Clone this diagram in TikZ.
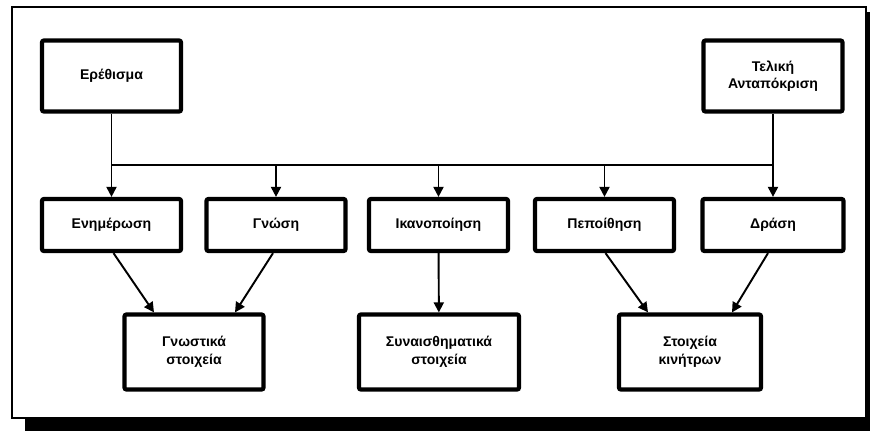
\documentclass[tikz,border=0pt]{standalone}
\usepackage{fontspec}
\setmainfont{Liberation Sans}
\usepackage{tikz}
\usetikzlibrary{arrows.meta}
\usetikzlibrary{positioning}
\tikzset{%
	lw/.style={line width=1.1},
	box/.style={rectangle,draw,line width=2.4,rounded corners=0.04cm,fill=white,align=center,minimum width=2.78cm,minimum height=1.04cm,font=\fontsize{8}{10}\selectfont\bfseries},
	tallbox/.style={box,minimum height=1.5cm},
	arr/.style = {arrows={-Triangle[length=0.2cm,width=0.2cm]},line width=1.1},
	frm/.style={line width=0.8},
}
\begin{document}
\begin{tikzpicture}
	\useasboundingbox (0,0) rectangle (17.4,-8.62);
	% frame with its dark edge
	\draw[frm] (0.24,-0.14) rectangle (17.32,-8.36);
	\fill[black] (0.5,-8.36) rectangle (17.4,-8.62);
	\fill[black] (17.32,-0.24) rectangle (17.4,-8.62);
	
	\node (stim) at (2.23,-1.52) [box,minimum height=1.42cm] {Ερέθισμα};
	\node (resp) at (15.46,-1.52) [box,minimum height=1.42cm] {Τελική\\Ανταπόκριση};
	
	\node (aware) at (2.23,-4.5) [box] {Ενημέρωση};
	\node (know) at (5.52,-4.5) [box] {Γνώση};
	\node (satis) at (8.77,-4.5) [box] {Ικανοποίηση};
	\node (belief) at (12.09,-4.5) [box] {Πεποίθηση};
	\node (action) at (15.46,-4.5) [box,minimum width=2.82cm] {Δράση};
	
	\node (cog) at (3.88,-7.04) [tallbox] {Γνωστικά\\στοιχεία};
	\node (emo) at (8.78,-7.04) [tallbox,minimum width=3.2cm] {Συναισθηματικά\\στοιχεία};
	\node (mot) at (13.8,-7.04) [tallbox,minimum width=2.84cm] {Στοιχεία\\κινήτρων};
	
	\coordinate (bus) at (0,-3.3);
	\draw[lw] (stim) -- (stim |- bus) -- (resp |- bus) -- (resp);
	\draw[arr] (stim |- bus) -- (aware);
	\draw[arr] (know |- bus) -- (know);
	\draw[arr] (satis |- bus) -- (satis);
	\draw[arr] (belief |- bus) -- (belief);
	\draw[arr] (resp |- bus) -- (action);
	
	\draw[arr] ([xshift=0.04cm]aware.south) -- ([xshift=-0.8cm]cog.north);
	\draw[arr] ([xshift=-0.06cm]know.south) -- ([xshift=0.82cm]cog.north);
	\draw[arr] (satis) -- (emo);
	\draw[arr] ([xshift=0.02cm]belief.south) -- ([xshift=-0.84cm]mot.north);
	\draw[arr] ([xshift=-0.1cm]action.south) -- ([xshift=0.84cm]mot.north);
\end{tikzpicture}
\end{document}
